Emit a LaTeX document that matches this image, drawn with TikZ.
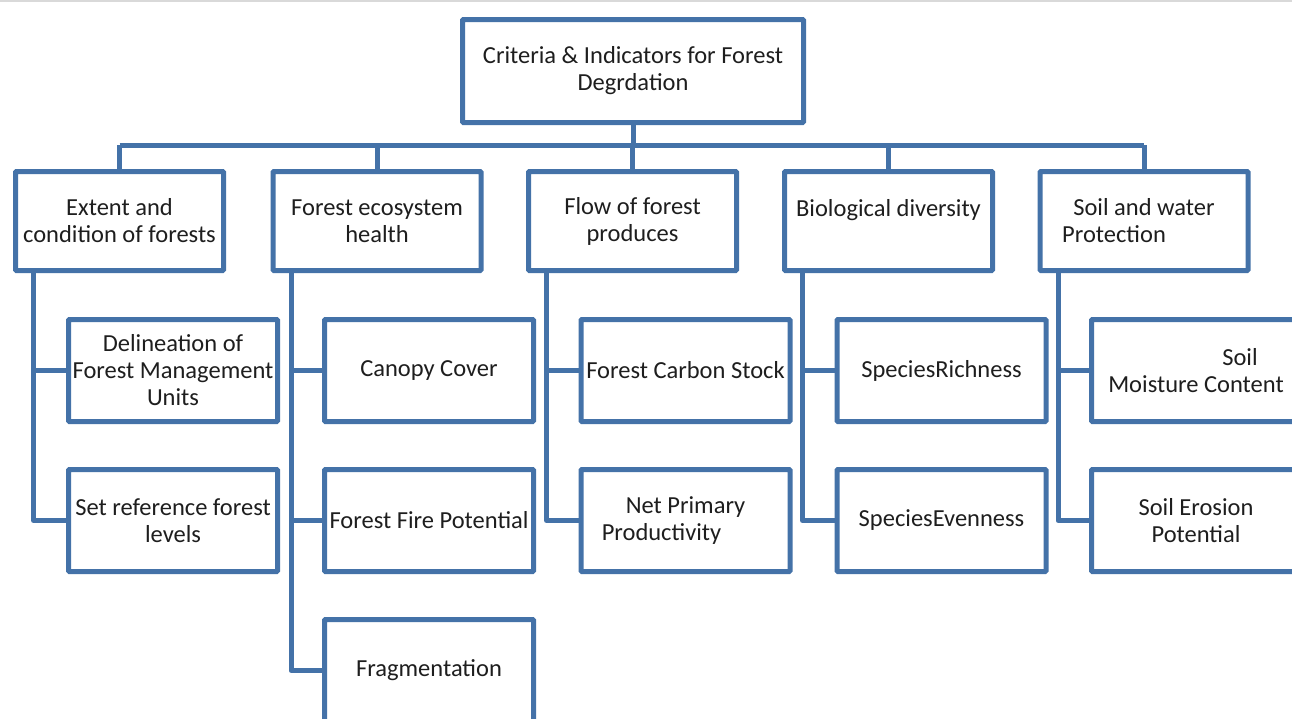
\documentclass[tikz,border=0pt]{standalone}
\usepackage{fontspec}
\setmainfont{Carlito}
\definecolor{boxblue}{RGB}{68,114,168}
\definecolor{txt}{RGB}{30,30,30}
\tikzset{
  base/.style={draw=boxblue, line width=5pt, rounded corners=1pt, fill=white,
    inner sep=0pt, align=center, text=txt,
    font=\fontsize{24.5}{27}\selectfont},
  rootbox/.style={base, minimum width=341pt, minimum height=103pt},
  catbox/.style={base, minimum width=208pt, minimum height=99pt},
  leafbox/.style={base, minimum width=209pt, minimum height=102pt},
  conn/.style={draw=boxblue, line width=5pt, line join=round},
}
\begin{document}
\begin{tikzpicture}[x=1pt,y=-1pt]
\useasboundingbox (0,0) rectangle (1292,718);
\clip (0,0) rectangle (1292,718);
\fill[white] (0,0) rectangle (1292,718);
\draw[black!15, line width=2pt] (0,1) -- (1292,1);

\node[rootbox] (root) at (633,71) {Criteria \& Indicators for Forest\\Degrdation};

\node[catbox] (e1) at (119.5,221) {Extent and\\condition of forests};
\node[catbox] (e2) at (377,221) {Forest ecosystem\\health};
\node[catbox] (e3) at (632.5,221) {Flow of forest\\produces};
\node[catbox] (e4) at (888.5,221) {Biological diversity\\\mbox{}};
\node[catbox] (e5) at (1144,221) {Soil and water\\Protection\hspace*{60pt}};

\node[leafbox] (c11) at (173,370.5) {Delineation of\\Forest Management\\Units};
\node[leafbox] (c12) at (173,520.5) {Set reference forest\\levels};
\node[leafbox] (c21) at (429,370.5) {Canopy Cover};
\node[leafbox] (c22) at (429,520.5) {Forest Fire Potential};
\node[leafbox] (c23) at (429,670.5) {Fragmentation};
\node[leafbox] (c31) at (685.5,370.5) {Forest Carbon Stock};
\node[leafbox] (c32) at (685.5,520.5) {Net Primary\\Productivity\hspace*{48pt}};
\node[leafbox] (c41) at (941.5,370.5) {SpeciesRichness};
\node[leafbox] (c42) at (941.5,520.5) {SpeciesEvenness};
\node[leafbox] (c51) at (1196,370.5) {\hspace*{88pt}Soil\\Moisture Content};
\node[leafbox] (c52) at (1196,520.5) {Soil Erosion\\Potential};

\coordinate (bus) at (0,145);
\draw[conn] (root.south) -- (root.south |- bus);
\draw[conn] (e1.north |- bus) -- (e5.north |- bus);
\foreach \e in {e1,e2,e3,e4,e5} {
  \draw[conn] (\e.north |- bus) -- (\e.north);
}
\foreach \e/\a/\b in {e1/c11/c12, e3/c31/c32, e4/c41/c42, e5/c51/c52} {
  \coordinate (s\e) at ([xshift=20.5pt]\e.south west);
  \draw[conn] (s\e) -- (s\e |- \b.west) -- (\b.west);
  \draw[conn] (s\e |- \a.west) -- (\a.west);
}
\coordinate (se2) at ([xshift=20.5pt]e2.south west);
\draw[conn] (se2) -- (se2 |- c23.west) -- (c23.west);
\draw[conn] (se2 |- c21.west) -- (c21.west);
\draw[conn] (se2 |- c22.west) -- (c22.west);
\end{tikzpicture}
\end{document}
